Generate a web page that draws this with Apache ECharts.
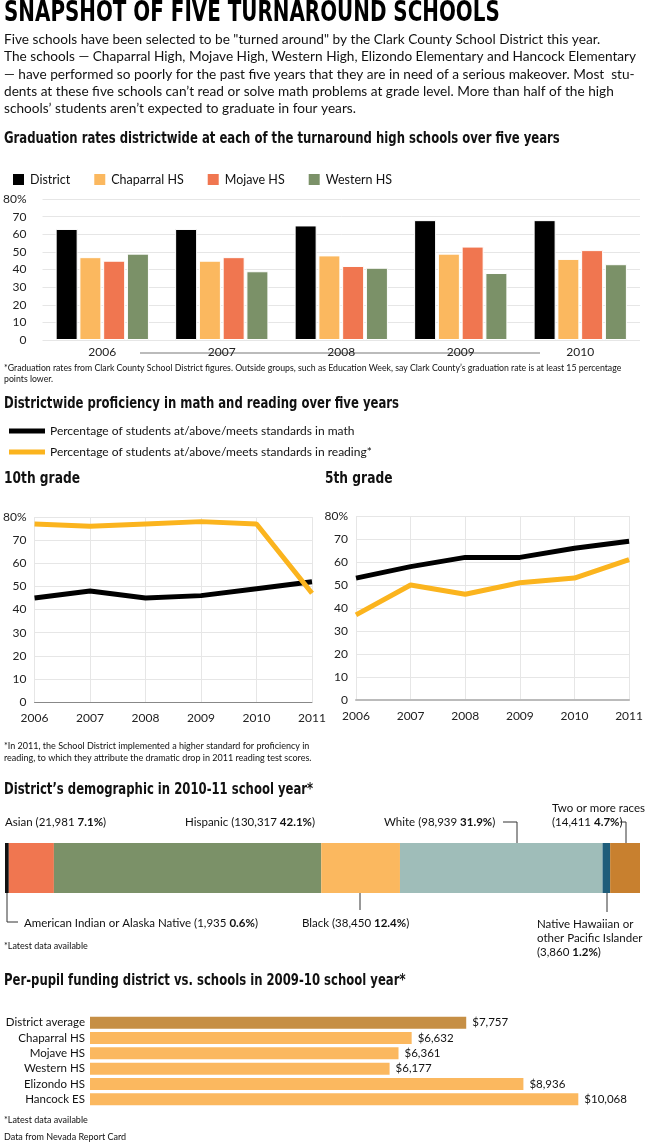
<!DOCTYPE html>
<html><head><meta charset="utf-8">
<script src="https://cdn.jsdelivr.net/npm/echarts@6/dist/echarts.min.js"></script>
<style>html,body{margin:0;padding:0;background:#fff}#c{width:646px;height:1146px}</style>
</head><body><div id="c"></div>
<script>
const gradYears=['2006','2007','2008','2009','2010'];
const gradDistrict=[63,63,65,68,68];
const gradChaparral=[47,45,48,49,46];
const gradMojave=[45,47,42,53,51];
const gradWestern=[49,39,41,38,43];
const profYears=['2006','2007','2008','2009','2010','2011'];
const math10=[45,48,45,46,49,52];
const read10=[77,76,77,78,77,47];
const math5=[53,58,62,62,66,69];
const read5=[37,50,46,51,53,61];
const demoNames=['American Indian or Alaska Native','Asian','Hispanic','Black','White','Native Hawaiian or other Pacific Islander','Two or more races'];
const demoPct=[0.6,7.1,42.1,12.4,31.9,1.2,4.7];
const fundNames=['District average','Chaparral HS','Mojave HS','Western HS','Elizondo HS','Hancock ES'];
const fundVals=[7757,6632,6361,6177,8936,10068];

const F='Lato, "Open Sans", sans-serif';
const HF='bold 16px "DejaVu Sans Condensed", sans-serif';
const C={dist:'#000',chap:'#fbb85f',moj:'#f07650',west:'#7b9168',yel:'#fbb41e'};
const demoColors=['#111','#f07650','#7b9168','#fbb85f','#9fbdb9','#1f5d7a','#c8802f'];
const chart=echarts.init(document.getElementById('c'));
function T(x,y,text,o,sx){return {type:'text',left:x,top:y,scaleX:sx||1,style:Object.assign({text:text,font:'14px '+F,fill:'#111'},o||{})};}
function rt(x,y,text,size){return {type:'text',left:x,top:y,style:{text:text,font:(size||11.5)+'px '+F,fill:'#111',lineHeight:14,rich:{b:{fontWeight:'bold',fontSize:size||11.5,fontFamily:F}}}};}
function L(pts){return {type:'polyline',shape:{points:pts},style:{stroke:'#333',lineWidth:1,fill:null}};}
const yl={color:'#222',fontSize:12,fontFamily:F,formatter:v=>v===80?'80%':v};
const gridLine={show:true,lineStyle:{color:'#e6e6e6'}};
const para=['Five schools have been selected to be "turned around" by the Clark County School District this year.',
'The schools — Chaparral High, Mojave High, Western High, Elizondo Elementary and Hancock Elementary',
'— have performed so poorly for the past five years that they are in need of a serious makeover. Most  stu-',
'dents at these five schools can’t read or solve math problems at grade level. More than half of the high',
'schools’ students aren’t expected to graduate in four years.'];
const graphic=[
 T(4,0,'SNAPSHOT OF FIVE TURNAROUND SCHOOLS',{font:'bold 28px "DejaVu Sans Condensed", sans-serif',fill:'#000'},0.79),
 T(4,31,para.join('\n'),{font:'14px '+F,lineHeight:17.3},0.975),
 T(4,131,'Graduation rates districtwide at each of the turnaround high schools over five years',{font:HF},0.81),
 {type:'line',shape:{x1:140,y1:353,x2:540,y2:353},style:{stroke:'#bbb',lineWidth:2}},
 T(4,363,'*Graduation rates from Clark County School District figures. Outside groups, such as Education Week, say Clark County’s graduation rate is at least 15 percentage\npoints lower.',{font:'9px '+F,lineHeight:11},0.97),
 T(4,396,'Districtwide proficiency in math and reading over five years',{font:HF},0.81),
 T(4,471,'10th grade',{font:HF},0.85),
 T(325,471,'5th grade',{font:HF},0.85),
 T(4,740,'*In 2011, the School District implemented a higher standard for proficiency in\nreading, to which they attribute the dramatic drop in 2011 reading test scores.',{font:'9px '+F,lineHeight:12}),
 T(4,782,'District’s demographic in 2010-11 school year*',{font:HF},0.81),
 rt(5,815,'Asian (21,981 {b|7.1%})'),
 rt(185,815,'Hispanic (130,317 {b|42.1%})'),
 rt(384,815,'White (98,939 {b|31.9%})'),
 L([[503,822],[517,822],[517,843]]),
 rt(552,801,'Two or more races\n(14,411 {b|4.7%})'),
 L([[620,822],[626,822],[626,843]]),
 L([[7,893],[7,922],[18,922]]),
 rt(24,916,'American Indian or Alaska Native (1,935 {b|0.6%})'),
 L([[360,893],[360,910]]),
 rt(302,916,'Black (38,450 {b|12.4%})'),
 L([[607,893],[607,912]]),
 rt(537,917,'Native Hawaiian or\nother Pacific Islander\n(3,860 {b|1.2%})'),
 T(4,942,'*Latest data available',{font:'9px '+F}),
 T(4,973,'Per-pupil funding district vs. schools in 2009-10 school year*',{font:HF},0.81),
 T(4,1116,'*Latest data available',{font:'9px '+F}),
 T(4,1133,'Data from Nevada Report Card',{font:'9px '+F})
];
const bs={borderColor:'#fff',borderWidth:1};
chart.setOption({
 animation:false,
 textStyle:{fontFamily:F},
 graphic:graphic,
 legend:[
  {left:6,top:167,itemWidth:13,itemHeight:13,itemGap:22,icon:'rect',textStyle:{fontSize:12.5,fontFamily:F,color:'#111'},data:['District','Chaparral HS','Mojave HS','Western HS']},
  {left:4,top:420,orient:'vertical',itemWidth:36,itemHeight:5,itemGap:9,icon:'rect',textStyle:{fontSize:12,fontFamily:F,color:'#111'},data:['Percentage of students at/above/meets standards in math','Percentage of students at/above/meets standards in reading*']}
 ],
 grid:[
  {left:42,right:6,top:199,height:141},
  {left:32,width:280,top:517,height:185},
  {left:356,width:280,top:516,height:184},
  {left:5,width:635,top:843,height:50},
  {left:90,width:550,top:1015,height:92}
 ],
 xAxis:[
  {gridIndex:0,type:'category',data:gradYears,axisLine:{show:false},axisTick:{show:false},axisLabel:{color:'#222',fontSize:12,margin:6}},
  {gridIndex:1,type:'category',data:profYears,boundaryGap:false,axisLine:{lineStyle:{color:'#888'}},axisTick:{show:false},splitLine:{show:true,lineStyle:{color:'#e6e6e6'}},axisLabel:{color:'#222',fontSize:12,margin:10}},
  {gridIndex:2,type:'category',data:profYears,boundaryGap:false,axisLine:{lineStyle:{color:'#bbb',width:2}},axisTick:{show:false},splitLine:{show:true,lineStyle:{color:'#e6e6e6'}},axisLabel:{color:'#222',fontSize:12,margin:10}},
  {gridIndex:3,type:'value',min:0,max:100,show:false},
  {gridIndex:4,type:'value',min:0,max:11340,show:false}
 ],
 yAxis:[
  {gridIndex:0,type:'value',min:0,max:80,interval:10,axisLabel:Object.assign({},yl,{margin:16}),splitLine:gridLine},
  {gridIndex:1,type:'value',min:0,max:80,interval:10,axisLabel:yl,splitLine:gridLine},
  {gridIndex:2,type:'value',min:0,max:80,interval:10,axisLabel:yl,splitLine:gridLine},
  {gridIndex:3,type:'category',data:['d'],show:false},
  {gridIndex:4,type:'category',data:fundNames,inverse:true,axisLine:{show:false},axisTick:{show:false},axisLabel:{color:'#111',fontSize:11.5,margin:5,interval:0}}
 ],
 series:[
  {name:'District',type:'bar',xAxisIndex:0,yAxisIndex:0,data:gradDistrict,barWidth:22,barGap:'8%',itemStyle:Object.assign({color:C.dist},bs)},
  {name:'Chaparral HS',type:'bar',xAxisIndex:0,yAxisIndex:0,data:gradChaparral,barWidth:22,itemStyle:Object.assign({color:C.chap},bs)},
  {name:'Mojave HS',type:'bar',xAxisIndex:0,yAxisIndex:0,data:gradMojave,barWidth:22,itemStyle:Object.assign({color:C.moj},bs)},
  {name:'Western HS',type:'bar',xAxisIndex:0,yAxisIndex:0,data:gradWestern,barWidth:22,itemStyle:Object.assign({color:C.west},bs)},
  {name:'Percentage of students at/above/meets standards in math',type:'line',xAxisIndex:1,yAxisIndex:1,data:math10,symbol:'none',lineStyle:{color:'#000',width:5},itemStyle:{color:'#000'}},
  {name:'Percentage of students at/above/meets standards in reading*',type:'line',xAxisIndex:1,yAxisIndex:1,data:read10,symbol:'none',lineStyle:{color:C.yel,width:5},itemStyle:{color:C.yel}},
  {name:'Percentage of students at/above/meets standards in math',type:'line',xAxisIndex:2,yAxisIndex:2,data:math5,symbol:'none',lineStyle:{color:'#000',width:5},itemStyle:{color:'#000'}},
  {name:'Percentage of students at/above/meets standards in reading*',type:'line',xAxisIndex:2,yAxisIndex:2,data:read5,symbol:'none',lineStyle:{color:C.yel,width:5},itemStyle:{color:C.yel}}
 ].concat(demoNames.map((n,i)=>({name:n,type:'bar',stack:'demo',xAxisIndex:3,yAxisIndex:3,barWidth:50,data:[demoPct[i]],itemStyle:{color:demoColors[i]}})))
 .concat([{name:'funding',type:'bar',xAxisIndex:4,yAxisIndex:4,barWidth:12,
   data:fundVals.map((v,i)=>({value:v,itemStyle:{color:i===0?'#c68f45':'#fbb85f'}})),
   label:{show:true,position:'right',distance:6,color:'#111',fontSize:11.5,formatter:p=>'$'+p.value.toLocaleString('en-US')}}])
});
</script></body></html>
